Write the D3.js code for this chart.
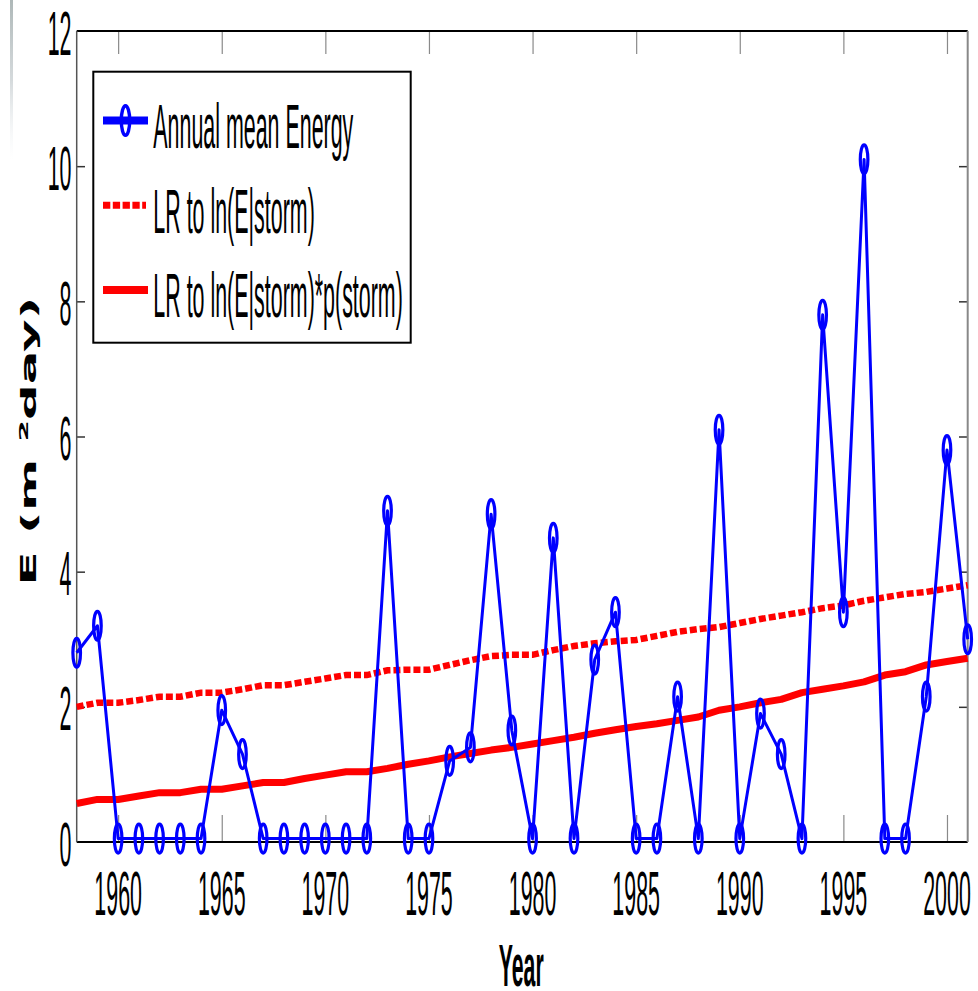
<!DOCTYPE html>
<html>
<head>
<meta charset="utf-8">
<script src="https://cdn.jsdelivr.net/npm/d3@7/dist/d3.min.js"></script>
<style>
  html, body { margin: 0; padding: 0; background: #fff; }
  svg { display: block; }
</style>
</head>
<body>
<svg id="chart" width="978" height="991"></svg>
<script>
// ---------------- DATA ----------------
const years = [1958,1959,1960,1961,1962,1963,1964,1965,1966,1967,
               1968,1969,1970,1971,1972,1973,1974,1975,1976,1977,
               1978,1979,1980,1981,1982,1983,1984,1985,1986,1987,
               1988,1989,1990,1991,1992,1993,1994,1995,1996,1997,
               1998,1999,2000,2001];

// Annual mean Energy
const energy = [2.8, 3.2, 0.05, 0.05, 0.05, 0.05, 0.05, 1.95, 1.3, 0.05,
                0.05, 0.05, 0.05, 0.05, 0.05, 4.9, 0.05, 0.05, 1.2, 1.4,
                4.85, 1.65, 0.05, 4.5, 0.05, 2.7, 3.4, 0.05, 0.05, 2.15,
                0.05, 6.1, 0.05, 1.9, 1.3, 0.05, 7.8, 3.4, 10.1, 0.05,
                0.05, 2.15, 5.8, 3.0];

// LR to ln(E|storm)  (dashed)
const lrStorm = [2.00, 2.06, 2.06, 2.10, 2.15, 2.15, 2.21, 2.21, 2.26, 2.32,
                 2.32, 2.37, 2.42, 2.47, 2.47, 2.54, 2.55, 2.55, 2.62, 2.69,
                 2.75, 2.77, 2.77, 2.84, 2.90, 2.94, 2.97, 2.99, 3.05, 3.11,
                 3.15, 3.18, 3.24, 3.30, 3.35, 3.40, 3.46, 3.50, 3.57, 3.62,
                 3.67, 3.70, 3.75, 3.80];

// LR to ln(E|storm)*p(storm)  (solid)
const lrStormP = [0.57, 0.63, 0.63, 0.68, 0.73, 0.73, 0.78, 0.78, 0.83, 0.88,
                  0.88, 0.94, 0.99, 1.04, 1.04, 1.09, 1.15, 1.20, 1.26, 1.31,
                  1.36, 1.40, 1.45, 1.50, 1.55, 1.61, 1.66, 1.71, 1.75, 1.80,
                  1.85, 1.95, 2.00, 2.06, 2.11, 2.21, 2.26, 2.31, 2.37, 2.47,
                  2.52, 2.62, 2.67, 2.72];

const xTickValues = [1960, 1965, 1970, 1975, 1980, 1985, 1990, 1995, 2000];
const yTickValues = [0, 2, 4, 6, 8, 10, 12];
const legendLabels = ["Annual mean Energy", "LR to ln(E|storm)", "LR to ln(E|storm)*p(storm)"];

// ---------------- LAYOUT ----------------
const L = 76.7, R = 967.7, T = 31, B = 842;
const SX = 0.34;        // horizontal squeeze of text (narrow look)
const FS = 63;          // tick / legend font size

const svg = d3.select("#chart");
const x = d3.scaleLinear().domain([1958, 2001]).range([L, R]);
const y = d3.scaleLinear().domain([0, 12]).range([B, T]);

// faint scan artifact at the left edge
const defs = svg.append("defs");
const grad = defs.append("linearGradient").attr("id", "fade").attr("x1", 0).attr("y1", 0).attr("x2", 0).attr("y2", 1);
grad.append("stop").attr("offset", "0%").attr("stop-color", "#9aa6a6").attr("stop-opacity", 0.8);
grad.append("stop").attr("offset", "50%").attr("stop-color", "#aab4b8").attr("stop-opacity", 0.5);
grad.append("stop").attr("offset", "100%").attr("stop-color", "#dde4ea").attr("stop-opacity", 0);
svg.append("rect").attr("x", 10).attr("y", 0).attr("width", 3).attr("height", 160).attr("fill", "url(#fade)");

// ---------------- AXES (ticks) ----------------
const bottomAx = svg.append("g").attr("transform", `translate(0,${B})`)
  .call(d3.axisBottom(x).tickValues(xTickValues).tickSize(-27).tickFormat(""));
const topAx = svg.append("g").attr("transform", `translate(0,${T})`)
  .call(d3.axisTop(x).tickValues(xTickValues).tickSize(-23).tickFormat(""));
const leftAx = svg.append("g").attr("transform", `translate(${L},0)`)
  .call(d3.axisLeft(y).tickValues([2, 4, 6, 8, 10]).tickSize(-8.3).tickFormat(""));
const rightAx = svg.append("g").attr("transform", `translate(${R},0)`)
  .call(d3.axisRight(y).tickValues([2, 4, 6, 8, 10]).tickSize(-8.7).tickFormat(""));
[bottomAx, topAx, leftAx, rightAx].forEach(g => g.select(".domain").remove());
[bottomAx, topAx].forEach(g => g.selectAll(".tick line").attr("stroke", "#8a8a8a").attr("stroke-width", 1.2));
[leftAx, rightAx].forEach(g => g.selectAll(".tick line").attr("stroke", "#333").attr("stroke-width", 1.5));

// frame
svg.append("line").attr("x1", L).attr("x2", R).attr("y1", T).attr("y2", T).attr("stroke", "#000").attr("stroke-width", 2);
svg.append("line").attr("x1", L).attr("x2", R).attr("y1", B).attr("y2", B).attr("stroke", "#000").attr("stroke-width", 2);
svg.append("line").attr("x1", L).attr("x2", L).attr("y1", T).attr("y2", B).attr("stroke", "#555").attr("stroke-width", 1.5);
svg.append("line").attr("x1", R).attr("x2", R).attr("y1", T).attr("y2", B).attr("stroke", "#888").attr("stroke-width", 2);

// tick labels
const txtFont = "'Liberation Sans', Arial, Helvetica, sans-serif";
svg.append("g").selectAll("g").data(xTickValues).join("g")
  .attr("transform", d => `translate(${x(d)},915) scale(${SX},1)`)
  .append("text").attr("text-anchor", "middle")
  .attr("font-family", txtFont).attr("font-size", FS).attr("fill", "#000")
  .text(d => d);
svg.append("g").selectAll("g").data(yTickValues).join("g")
  .attr("transform", d => `translate(71.5,${y(d) + 23.5}) scale(${SX},1)`)
  .append("text").attr("text-anchor", "end")
  .attr("font-family", txtFont).attr("font-size", FS).attr("fill", "#000")
  .text(d => d);

// axis titles
svg.append("g").attr("transform", `translate(${(L + R) / 2 - 1},986) scale(0.355,1)`)
  .append("text").attr("text-anchor", "middle")
  .attr("font-family", txtFont).attr("font-weight", "bold").attr("font-size", 60)
  .text("Year");

const yl = svg.append("g").attr("transform", "translate(35.5,441) scale(0.41,1) rotate(-90)")
  .append("text").attr("text-anchor", "middle")
  .attr("font-family", "'DejaVu Sans', sans-serif").attr("font-weight", "bold").attr("font-size", 50)
  .attr("fill", "#000");
yl.append("tspan").text("E (m ");
yl.append("tspan").attr("font-size", 31).attr("dy", -19).text("2");
yl.append("tspan").attr("dy", 19).text("day)");

// ---------------- SERIES ----------------
const lineGen = vals => d3.line().x((d, i) => x(years[i])).y(d => y(d))(vals);

svg.append("path").attr("d", lineGen(lrStorm))
  .attr("fill", "none").attr("stroke", "#ff0000").attr("stroke-width", 6.5)
  .attr("stroke-dasharray", "7,3");
svg.append("path").attr("d", lineGen(lrStormP))
  .attr("fill", "none").attr("stroke", "#ff0000").attr("stroke-width", 7)
  .attr("stroke-linejoin", "round");

svg.append("path").attr("d", lineGen(energy))
  .attr("fill", "none").attr("stroke", "#0000ff").attr("stroke-width", 3)
  .attr("stroke-linejoin", "round");
svg.append("g").selectAll("ellipse").data(energy).join("ellipse")
  .attr("cx", (d, i) => x(years[i])).attr("cy", d => y(d))
  .attr("rx", 3.8).attr("ry", 14.5)
  .attr("fill", "none").attr("stroke", "#0000ff").attr("stroke-width", 3.2);

// ---------------- LEGEND ----------------
const leg = svg.append("g");
leg.append("rect").attr("x", 93.3).attr("y", 71.7).attr("width", 317.4).attr("height", 271)
  .attr("fill", "#fff").attr("stroke", "#000").attr("stroke-width", 2);
const rowY = i => 120.5 + i * 84.7;
// row 0
leg.append("line").attr("x1", 103).attr("x2", 148).attr("y1", rowY(0)).attr("y2", rowY(0))
  .attr("stroke", "#0000ff").attr("stroke-width", 8);
leg.append("ellipse").attr("cx", 125.5).attr("cy", rowY(0)).attr("rx", 4.2).attr("ry", 14.8)
  .attr("fill", "none").attr("stroke", "#0000ff").attr("stroke-width", 3.4);
// row 1
leg.append("line").attr("x1", 103).attr("x2", 146).attr("y1", rowY(1)).attr("y2", rowY(1))
  .attr("stroke", "#ff0000").attr("stroke-width", 7).attr("stroke-dasharray", "7.3,2.5");
// row 2
leg.append("line").attr("x1", 103).attr("x2", 148).attr("y1", rowY(2)).attr("y2", rowY(2))
  .attr("stroke", "#ff0000").attr("stroke-width", 8);
leg.selectAll("g.lbl").data(legendLabels).join("g").attr("class", "lbl")
  .attr("transform", (d, i) => `translate(153.3,${rowY(i) + 27.5}) scale(${SX},1)`)
  .append("text").attr("font-family", txtFont).attr("font-size", FS).attr("fill", "#000")
  .text(d => d);
</script>
</body>
</html>
